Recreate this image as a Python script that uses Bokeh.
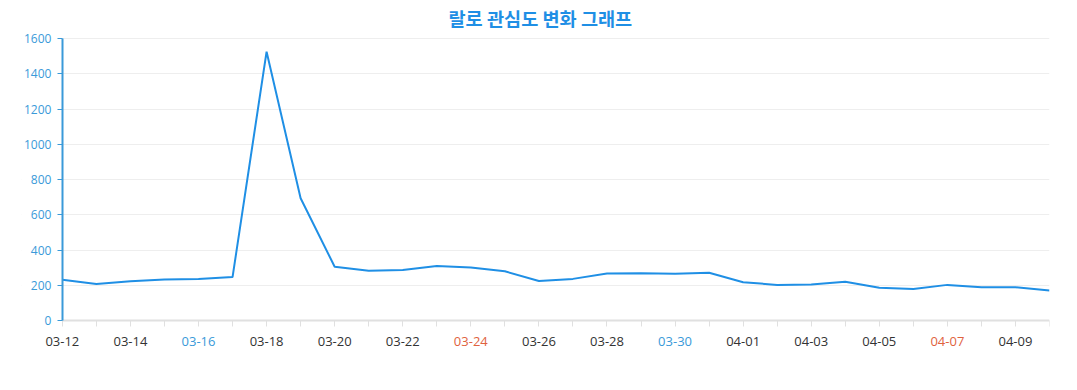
from bokeh.plotting import figure
from bokeh.models import Range1d, FixedTicker, ColumnDataSource, BoxAnnotation
from bokeh.core.properties import value
from bokeh.embed import file_html
from bokeh.resources import INLINE

title_text = "랄로 관심도 변화 그래프"
dates = ["03-12", "03-13", "03-14", "03-15", "03-16", "03-17", "03-18", "03-19", "03-20", "03-21",
         "03-22", "03-23", "03-24", "03-25", "03-26", "03-27", "03-28", "03-29", "03-30", "03-31",
         "04-01", "04-02", "04-03", "04-04", "04-05", "04-06", "04-07", "04-08", "04-09", "04-10"]
values = [232, 208, 223, 234, 236, 247, 1525, 694, 306, 283,
          288, 310, 302, 280, 225, 237, 267, 269, 266, 272,
          218, 203, 205, 221, 187, 179, 203, 190, 190, 171]
y_ticks = [0, 200, 400, 600, 800, 1000, 1200, 1400, 1600]
saturday_labels = ["03-16", "03-30"]
sunday_labels = ["03-24", "04-07"]

BLUE = "#1f8fe5"
AXIS_BLUE = "#3a9ad9"
SAT_BLUE = "#3a9ad9"
SUN_RED = "#e0623e"
TEXT_DARK = "#333333"
FONT = "Open Sans"

xs = list(range(len(dates)))
n_last = len(dates) - 1
y_top = y_ticks[-1]

# room inside the frame around the data area for the tick labels
Y_MIN, Y_MAX = -220, 1645
X_MIN = -1.2

p = figure(output_backend="svg", toolbar_location=None,
           x_range=Range1d(X_MIN, n_last), y_range=Range1d(Y_MIN, Y_MAX),
           min_border_left=21, min_border_right=20, min_border_top=30, min_border_bottom=0,
           frame_width=1028, frame_height=329)
p.outline_line_color = None

p.title.text = title_text
p.title.align = "left"
p.title.offset = 427
p.title.text_color = BLUE
p.title.text_font = "Noto Sans CJK KR"
p.title.text_font_size = "18.6px"
p.title.text_font_style = "bold"
p.title.standoff = 0

p.xgrid.grid_line_color = None
p.ygrid.ticker = FixedTicker(ticks=y_ticks)
p.ygrid.grid_line_color = "#eeeeee"
p.ygrid.grid_line_width = 1

# keep the grid from showing left of the y axis
p.add_layout(BoxAnnotation(right=0, fill_color="white", fill_alpha=1.0, line_color=None,
                           level="underlay"))

p.line(xs, values, line_color=BLUE, line_width=2)

# x axis drawn at y = 0, labels drawn as text so that weekend dates get their colours
p.xaxis.fixed_location = 0
p.xaxis.bounds = (0, n_last)
p.xaxis.ticker = FixedTicker(ticks=xs)
p.xaxis.major_label_overrides = {i: "" for i in xs}
p.xaxis.axis_line_color = "#e0e0e0"
p.xaxis.axis_line_width = 2
p.xaxis.major_tick_line_color = "#e0e0e0"
p.xaxis.major_tick_in = 0
p.xaxis.major_tick_out = 6
p.xaxis.minor_tick_line_color = None
p.xaxis.major_label_standoff = 0

lab_x, lab_t, lab_c = [], [], []
for i, d in enumerate(dates):
    if i % 2 == 0:
        lab_x.append(i)
        lab_t.append(d)
        lab_c.append(SAT_BLUE if d in saturday_labels else SUN_RED if d in sunday_labels else TEXT_DARK)
xsrc = ColumnDataSource(dict(x=lab_x, y=[0] * len(lab_x), text=lab_t, color=lab_c))
p.text(x="x", y="y", text="text", source=xsrc, text_color="color", text_align="center",
       text_baseline="top", y_offset=16, text_font=value(FONT), text_font_size="13px")

# y axis at x = 0
p.yaxis.fixed_location = 0
p.yaxis.ticker = FixedTicker(ticks=y_ticks)
p.yaxis.bounds = (0, y_top)
p.yaxis.major_label_overrides = {t: "" for t in y_ticks}
p.yaxis.axis_line_color = AXIS_BLUE
p.yaxis.axis_line_width = 2
p.yaxis.major_tick_line_color = AXIS_BLUE
p.yaxis.major_tick_in = 0
p.yaxis.major_tick_out = 5
p.yaxis.minor_tick_line_color = None
p.yaxis.major_label_standoff = 0

ysrc = ColumnDataSource(dict(x=[0] * len(y_ticks), y=y_ticks, text=[str(t) for t in y_ticks]))
p.text(x="x", y="y", text="text", source=ysrc, text_color=AXIS_BLUE, text_align="right",
       text_baseline="middle", x_offset=-11, text_font=value(FONT), text_font_size="12px")

open("out.html", "w").write(file_html(p, INLINE))
